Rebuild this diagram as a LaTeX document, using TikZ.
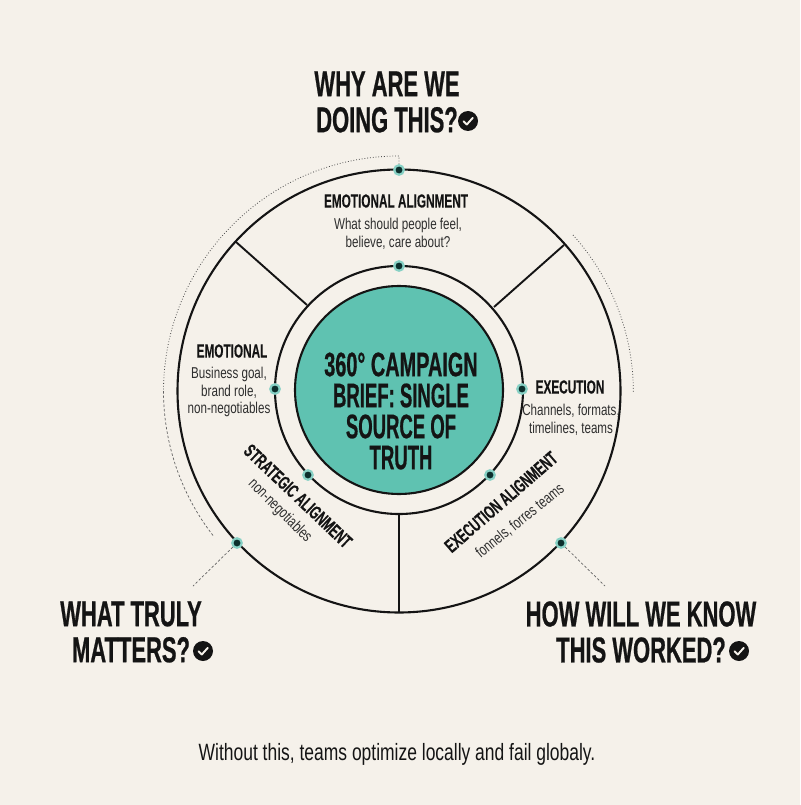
\documentclass[tikz,border=0pt]{standalone}
\usepackage{fontspec}
\setmainfont{Liberation Sans}
\newfontfamily\headfont[FakeStretch=0.61,FakeBold=0.6]{Liberation Sans Bold}
\newfontfamily\hubfont[FakeStretch=0.585,FakeBold=0.5]{Liberation Sans Bold}
\newfontfamily\hubnarrow[FakeStretch=0.545,FakeBold=0.5]{Liberation Sans Bold}
\newfontfamily\titlefont[FakeStretch=0.62,FakeBold=0.2]{Liberation Sans Bold}
\newfontfamily\subfont[FakeStretch=0.74]{Liberation Sans}
\definecolor{paper}{HTML}{F5F1EA}
\definecolor{brandteal}{HTML}{5FC2B1}
\definecolor{ink}{HTML}{141414}
\definecolor{dotdark}{HTML}{0C2F2C}
\definecolor{softink}{HTML}{2E2E2E}
\tikzset{
  x=1pt,y=-1pt,
  ring/.style={draw=ink,line width=2.1pt},
  spoke/.style={draw=ink,line width=1.9pt},
  hub/.style={circle,fill=brandteal,draw=ink,line width=2.1pt,minimum size=208pt,inner sep=0pt},
  hubtext/.style={font=\hubnarrow\fontsize{34}{31}\selectfont,text=ink,align=center,inner sep=0pt},
  dotnode/.style={circle,fill=dotdark,draw=brandteal!75,line width=2.2pt,minimum size=9.5pt,inner sep=0pt},
  guide/.style={draw=softink!85,line width=0.8pt,dotted},
  guidedash/.style={draw=softink!75,line width=0.7pt,dash pattern=on 2.5pt off 2pt},
  headline/.style={font=\headfont\fontsize{36}{36}\selectfont,text=ink,align=center,inner sep=0pt},
  segtitle/.style={font=\titlefont\fontsize{19}{20}\selectfont,text=ink,align=center,inner sep=0pt},
  segtext/.style={font=\subfont\fontsize{15.7}{17.6}\selectfont,text=softink,align=center,inner sep=0pt},
  caption/.style={font=\subfont\fontsize{23.6}{24}\selectfont,text=ink,inner sep=0pt},
  checkbadge/.style={circle,fill=ink,minimum size=20pt,inner sep=0pt},
  checkmark/.style={draw=paper,line width=1.9pt,line cap=round,line join=round},
}
\newcommand{\tickin}[1]{\draw[checkmark] ([shift={(-4.5,0.3)}]#1.center) -- ([shift={(-1.2,3.5)}]#1.center) -- ([shift={(4.8,-3.2)}]#1.center);}
\begin{document}
\begin{tikzpicture}
\fill[paper] (0,0) rectangle (800,805);
\useasboundingbox (0,0) rectangle (800,805);

\coordinate (ctr) at (399,391);
% rings
\node[circle,ring,minimum size=443pt,inner sep=0pt] (outer) at (ctr) {};
\node[circle,ring,minimum size=248pt,inner sep=0pt] (inner) at (399,390) {};
\node[hub] (hub) at (399,390) {};
\node[hubtext] (hublabel) at (401,411) {{\hubfont 360° CAMPAIGN}\\BRIEF: SINGLE\\SOURCE OF\\TRUTH};

% spokes
\coordinate (sLo) at (236,242);
\coordinate (sLi) at (307,305);
\coordinate (sRo) at (564,245);
\coordinate (sRi) at (494,307);
\coordinate (sBo) at (399,613);
\coordinate (sBi) at (399,514);
\draw[spoke] (sLo) -- (sLi);
\draw[spoke] (sRo) -- (sRi);
\draw[spoke] (sBi) -- (sBo);

% dots
\node[dotnode] (d1) at (399,170) {};
\node[dotnode] (d2) at (399,266) {};
\node[dotnode] (d3) at (275,389) {};
\node[dotnode] (d4) at (522,389) {};
\node[dotnode] (d5) at (308,475) {};
\node[dotnode] (d6) at (490,475) {};
\node[dotnode] (d7) at (237,543) {};
\node[dotnode] (d8) at (561,543) {};

% guides
\coordinate (g1) at (193,586);
\coordinate (g2) at (605,586);
\draw[guidedash] (d7) -- (g1);
\draw[guidedash] (d8) -- (g2);
\draw[guide] (d1) -- (399,156) arc[start angle=90,end angle=180,radius=235.5pt];
\draw[guidedash] (163.5,391) arc[start angle=180,end angle=218,radius=235.5pt];
\draw[guide] (573,235) arc[start angle=42,end angle=0,radius=235pt];

% headings
\node[headline] (why) at (387,102) {WHY ARE WE\\DOING THIS?};
\node[checkbadge] (c1) at (468,121) {}; \tickin{c1}
\node[headline] (what) at (131,632) {WHAT TRULY\\MATTERS?};
\node[checkbadge] (c2) at (203,651) {}; \tickin{c2}
\node[headline] (how) at (641,632) {HOW WILL WE KNOW\\THIS WORKED?};
\node[checkbadge] (c3) at (739,651) {}; \tickin{c3}

% top
\node[segtitle] (t1) at (396,201) {EMOTIONAL ALIGNMENT};
\node[segtext] (t1b) at (398,234) {What should people feel,\\believe, care about?};
% left
\node[segtitle] (t2) at (232,351) {EMOTIONAL};
\node[segtext] (t2b) at (229,392) {Business goal,\\brand role,\\non-negotiables};
% right
\node[segtitle] (t3) at (570,387) {EXECUTION};
\node[segtext] (t3b) at (571,420) {Channels, formats,\\timelines, teams};
% rotated
\node[segtitle,rotate=-43.5] (t4) at (298,496) {STRATEGIC ALIGNMENT};
\node[segtext,rotate=-45] (t4b) at (280,511) {non-negotiables};
\node[segtitle,rotate=41] (t5) at (501,502) {EXECUTION ALIGNMENT};
\node[segtext,rotate=39] (t5b) at (520,521) {fonnels, forres teams};

% caption
\node[caption] (cap) at (397,754) {Without this, teams optimize locally and fail globaly.};
\end{tikzpicture}
\end{document}
